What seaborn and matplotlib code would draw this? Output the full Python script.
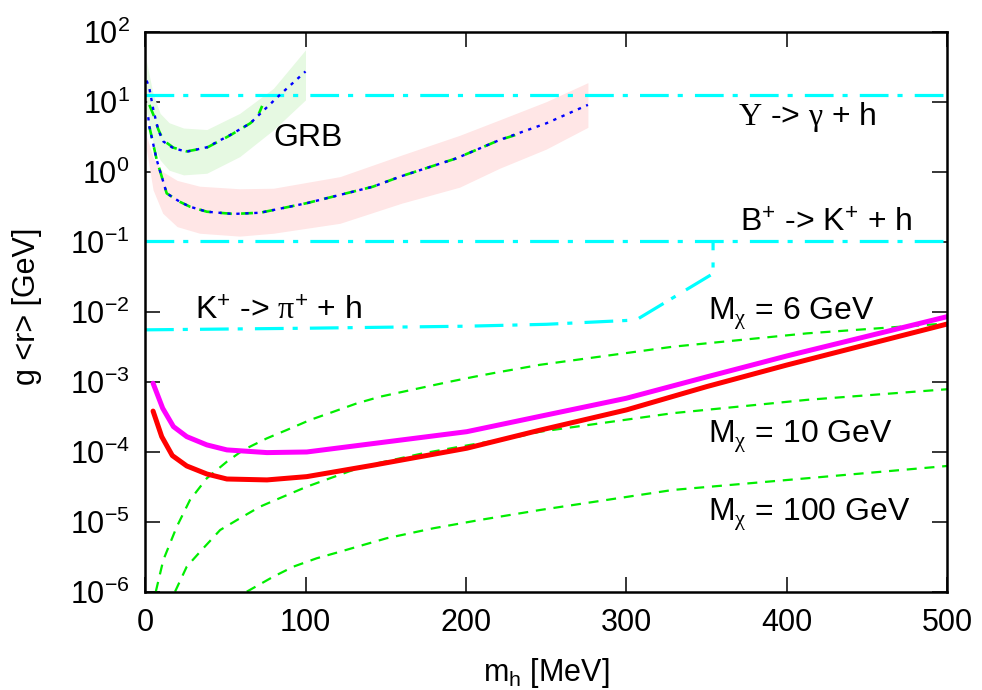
import matplotlib
matplotlib.use('Agg')
import matplotlib.pyplot as plt
import seaborn as sns
import numpy as np
from matplotlib.ticker import FixedLocator, FuncFormatter, NullLocator

# ---------------- data ----------------
# constraint lines (cyan, dash-dot)
ups_x = [0, 500]
ups_y = [12.5, 12.5]
bk_x = [0, 500]
bk_y = [0.102, 0.102]
kpi_x = [0, 100, 200, 250, 306, 354, 354]
kpi_y = [0.0055, 0.0058, 0.0062, 0.0066, 0.0076, 0.035, 0.102]

# GRB band 1 (green)
grb1_band_x = [1, 2, 5, 9.4, 15, 24, 38.5, 59, 80, 100]
grb1_upper = [38, 28, 13, 6.8, 5.0, 4.2, 4.0, 6.8, 15.5, 55]
grb1_lower = [7, 5.5, 2.6, 1.47, 1.05, 0.9, 0.95, 1.64, 3.95, 10.6]
grb1_blue_x = [1, 2.7, 5.2, 8.3, 11.4, 17.7, 26, 38.5, 53, 65.5, 84, 100]
grb1_blue_y = [20, 15.5, 7.6, 3.9, 2.7, 2.16, 1.93, 2.23, 3.34, 4.9, 12.5, 27]
grb1_green_x = [2.7, 5.2, 8.3, 11.4, 17.7, 26, 38.5, 53, 65.5, 70, 73]
grb1_green_y = [9.0, 6.5, 4.0, 2.8, 2.2, 1.95, 2.2, 3.3, 4.9, 6.0, 8.7]

# GRB band 2 (pink)
grb2_band_x = [1, 5, 11, 20, 34, 59, 80, 121.5, 160, 196, 221, 250, 276]
grb2_upper = [3.2, 1.6, 1.0, 0.75, 0.62, 0.57, 0.58, 0.85, 1.73, 3.3, 5.5, 10, 18.7]
grb2_lower = [2.0, 0.55, 0.255, 0.164, 0.132, 0.12, 0.132, 0.183, 0.355, 0.6, 1.12, 2.1, 4.3]
grb2_blue_x = [2, 2.7, 7.3, 13.5, 21.8, 28, 38.5, 55, 71.7, 100.8, 142, 159, 194, 221, 250, 276]
grb2_blue_y = [6.0, 4.4, 1.47, 0.49, 0.37, 0.316, 0.268, 0.249, 0.259, 0.355, 0.61, 0.85, 1.55, 2.84, 4.9, 9.0]
grb2_green_x = [2.7, 7.3, 13.5, 21.8, 28, 38.5, 55, 71.7, 100.8, 142, 159, 194, 221, 232, 235]
grb2_green_y = [4.4, 1.47, 0.49, 0.37, 0.316, 0.268, 0.249, 0.259, 0.355, 0.61, 0.85, 1.55, 2.84, 3.4, 4.0]

# main limits
red_x = [5, 10.4, 17, 26, 38.5, 51, 76, 100.8, 142, 200.5, 245, 300, 350, 400, 500]
red_y = [3.8e-4, 1.64e-4, 8.8e-5, 6.25e-5, 4.8e-5, 4.07e-5, 3.95e-5, 4.4e-5, 6.4e-5,
         1.12e-4, 2.0e-4, 3.95e-4, 8.5e-4, 1.73e-3, 6.67e-3]
mag_x = [5, 11, 17.7, 26, 38.5, 51, 76, 100.8, 200.5, 245, 300, 350, 400, 500]
mag_y = [9.5e-4, 4.17e-4, 2.28e-4, 1.64e-4, 1.25e-4, 1.06e-4, 9.7e-5, 9.9e-5, 1.93e-4,
         3.16e-4, 5.8e-4, 1.17e-3, 2.33e-3, 8.5e-3]

# dark-matter mass curves (green dashed)
m6_x = [6.7, 11.4, 19.8, 28, 38.5, 51, 61.3, 75.9, 88.3, 102.9, 117.4, 132, 146.5, 161,
        175.6, 190, 204.7, 219, 233.8, 246, 329, 412.5, 500]
m6_y = [1e-6, 2.84e-6, 8.5e-6, 2.04e-5, 4.17e-5, 7.2e-5, 1.06e-4, 1.55e-4, 2.04e-4, 2.84e-4,
        3.72e-4, 4.9e-4, 6.1e-4, 7.2e-4, 8.5e-4, 1.0e-3, 1.17e-3, 1.35e-3, 1.55e-3, 1.74e-3,
        3.16e-3, 4.9e-3, 6.8e-3]
m10_x = [18.7, 26, 35.3, 46.8, 59.2, 71.7, 86.2, 100.8, 115.3, 129.9, 144.4, 173.5, 202.6,
         231.7, 246.3, 329, 412.5, 500]
m10_y = [1e-6, 2.28e-6, 3.94e-6, 7.6e-6, 1.12e-5, 1.64e-5, 2.28e-5, 3.16e-5, 4.17e-5, 5.5e-5,
         6.8e-5, 9.5e-5, 1.25e-4, 1.62e-4, 1.93e-4, 3.55e-4, 5.5e-4, 7.8e-4]
m100_x = [63.4, 80, 92.5, 107, 121.5, 136, 150.6, 179.7, 208.9, 246.3, 329, 412.5, 500]
m100_y = [1e-6, 1.64e-6, 2.28e-6, 3.0e-6, 3.72e-6, 4.65e-6, 5.8e-6, 8.05e-6, 1.06e-5,
          1.47e-5, 2.84e-5, 4.17e-5, 6.25e-5]

x_ticks = [0, 100, 200, 300, 400, 500]
y_exps = [-6, -5, -4, -3, -2, -1, 0, 1, 2]

# ---------------- style ----------------
sns.set_style('ticks')
plt.rcParams['font.family'] = ['Liberation Sans', 'DejaVu Sans']
plt.rcParams['mathtext.fontset'] = 'custom'
plt.rcParams['mathtext.rm'] = 'Liberation Sans'
plt.rcParams['mathtext.it'] = 'Liberation Sans:italic'
plt.rcParams['mathtext.sf'] = 'Liberation Serif'
for k in ['text.color', 'axes.labelcolor', 'xtick.color', 'ytick.color',
          'xtick.labelcolor', 'ytick.labelcolor', 'axes.edgecolor']:
    plt.rcParams[k] = 'black'

FS = 22
fig = plt.figure(figsize=(9.82, 6.90), dpi=100)
ax = fig.add_axes([0.1477, 0.1425, 0.8170, 0.8116])
ax.set_yscale('log')

# bands
ax.fill_between(grb2_band_x, grb2_lower, grb2_upper, color='#ffe6e6', lw=0, zorder=1)
ax.fill_between(grb1_band_x, grb1_lower, grb1_upper, color='#e6f9e2', lw=0, zorder=1)

cyan_ls = (0, (9, 2.8, 1.6, 3.8))
green_ls = (0, (4.5, 3.5))
blue_ls = (0, (1.4, 2.4))


def line(x, y, color, lw, ls='-', z=3):
    sns.lineplot(x=x, y=y, ax=ax, color=color, linewidth=lw, linestyle=ls,
                 estimator=None, sort=False, zorder=z)


line(ups_x, ups_y, '#00ffff', 2.3, cyan_ls)
line(bk_x, bk_y, '#00ffff', 2.3, cyan_ls)
line(kpi_x, kpi_y, '#00ffff', 2.3, cyan_ls)

line(grb1_green_x, grb1_green_y, '#00ee00', 1.9, green_ls)
line(grb1_blue_x, grb1_blue_y, '#0000ff', 1.7, blue_ls)
line(grb2_green_x, grb2_green_y, '#00ee00', 1.9, green_ls)
line(grb2_blue_x, grb2_blue_y, '#0000ff', 1.7, blue_ls)

line(m6_x, m6_y, '#00ee00', 1.6, green_ls)
line(m10_x, m10_y, '#00ee00', 1.6, green_ls)
line(m100_x, m100_y, '#00ee00', 1.6, green_ls)

line(mag_x, mag_y, '#ff00ff', 3.6, '-', 4)
line(red_x, red_y, '#ff0000', 3.6, '-', 5)

# axes
ax.set_xlim(0, 500)
ax.set_ylim(1e-6, 1e2)
ax.xaxis.set_major_locator(FixedLocator(x_ticks))
ax.yaxis.set_major_locator(FixedLocator([10.0 ** e for e in y_exps]))
ax.yaxis.set_minor_locator(NullLocator())
ax.xaxis.set_minor_locator(NullLocator())
ax.yaxis.set_major_formatter(FuncFormatter(
    lambda v, p: r'$\mathregular{10^{%d}}$' % int(round(np.log10(v)))))
ax.tick_params(axis='both', which='major', direction='in', length=11, width=1.1,
               top=True, right=True, labelsize=FS, color='black', labelcolor='black')
ax.tick_params(axis='x', pad=12)
ax.tick_params(axis='y', pad=11)
for s in ax.spines.values():
    s.set_linewidth(1.8)
    s.set_color('black')
    s.set_zorder(10)

ax.set_xlabel(r'm$_\mathregular{h}$ [MeV]', fontsize=FS, color='black')
ax.set_ylabel('g <r> [GeV]', fontsize=FS, color='black')
ax.xaxis.label.set_va('baseline')
ax.xaxis.set_label_coords(0.5, (591.7 - 681) / 560)
ax.yaxis.set_label_coords(-0.128, 0.51)

TFS = 23
ax.text(80, 2.33, 'GRB', fontsize=TFS, va='baseline', ha='left')
ax.text(369.7, 4.65, r'$\mathsf{\Upsilon}$ -> $\mathsf{\gamma}$ + h', fontsize=TFS,
        va='baseline', ha='left')
ax.text(371, 0.139, r'B$^\mathregular{+}$ -> K$^\mathregular{+}$ + h', fontsize=TFS,
        va='baseline', ha='left')
ax.text(31.2, 0.0076, r'K$^\mathregular{+}$ -> $\mathsf{\pi}^\mathregular{+}$ + h',
        fontsize=TFS, va='baseline', ha='left')
ax.text(351, 0.0076, r'M$_{\mathsf{\chi}}$ = 6 GeV', fontsize=TFS, va='baseline', ha='left')
ax.text(351, 1.35e-4, r'M$_{\mathsf{\chi}}$ = 10 GeV', fontsize=TFS, va='baseline', ha='left')
ax.text(351, 1.03e-5, r'M$_{\mathsf{\chi}}$ = 100 GeV', fontsize=TFS, va='baseline', ha='left')

fig.savefig('out.png', dpi=100, facecolor='white')
